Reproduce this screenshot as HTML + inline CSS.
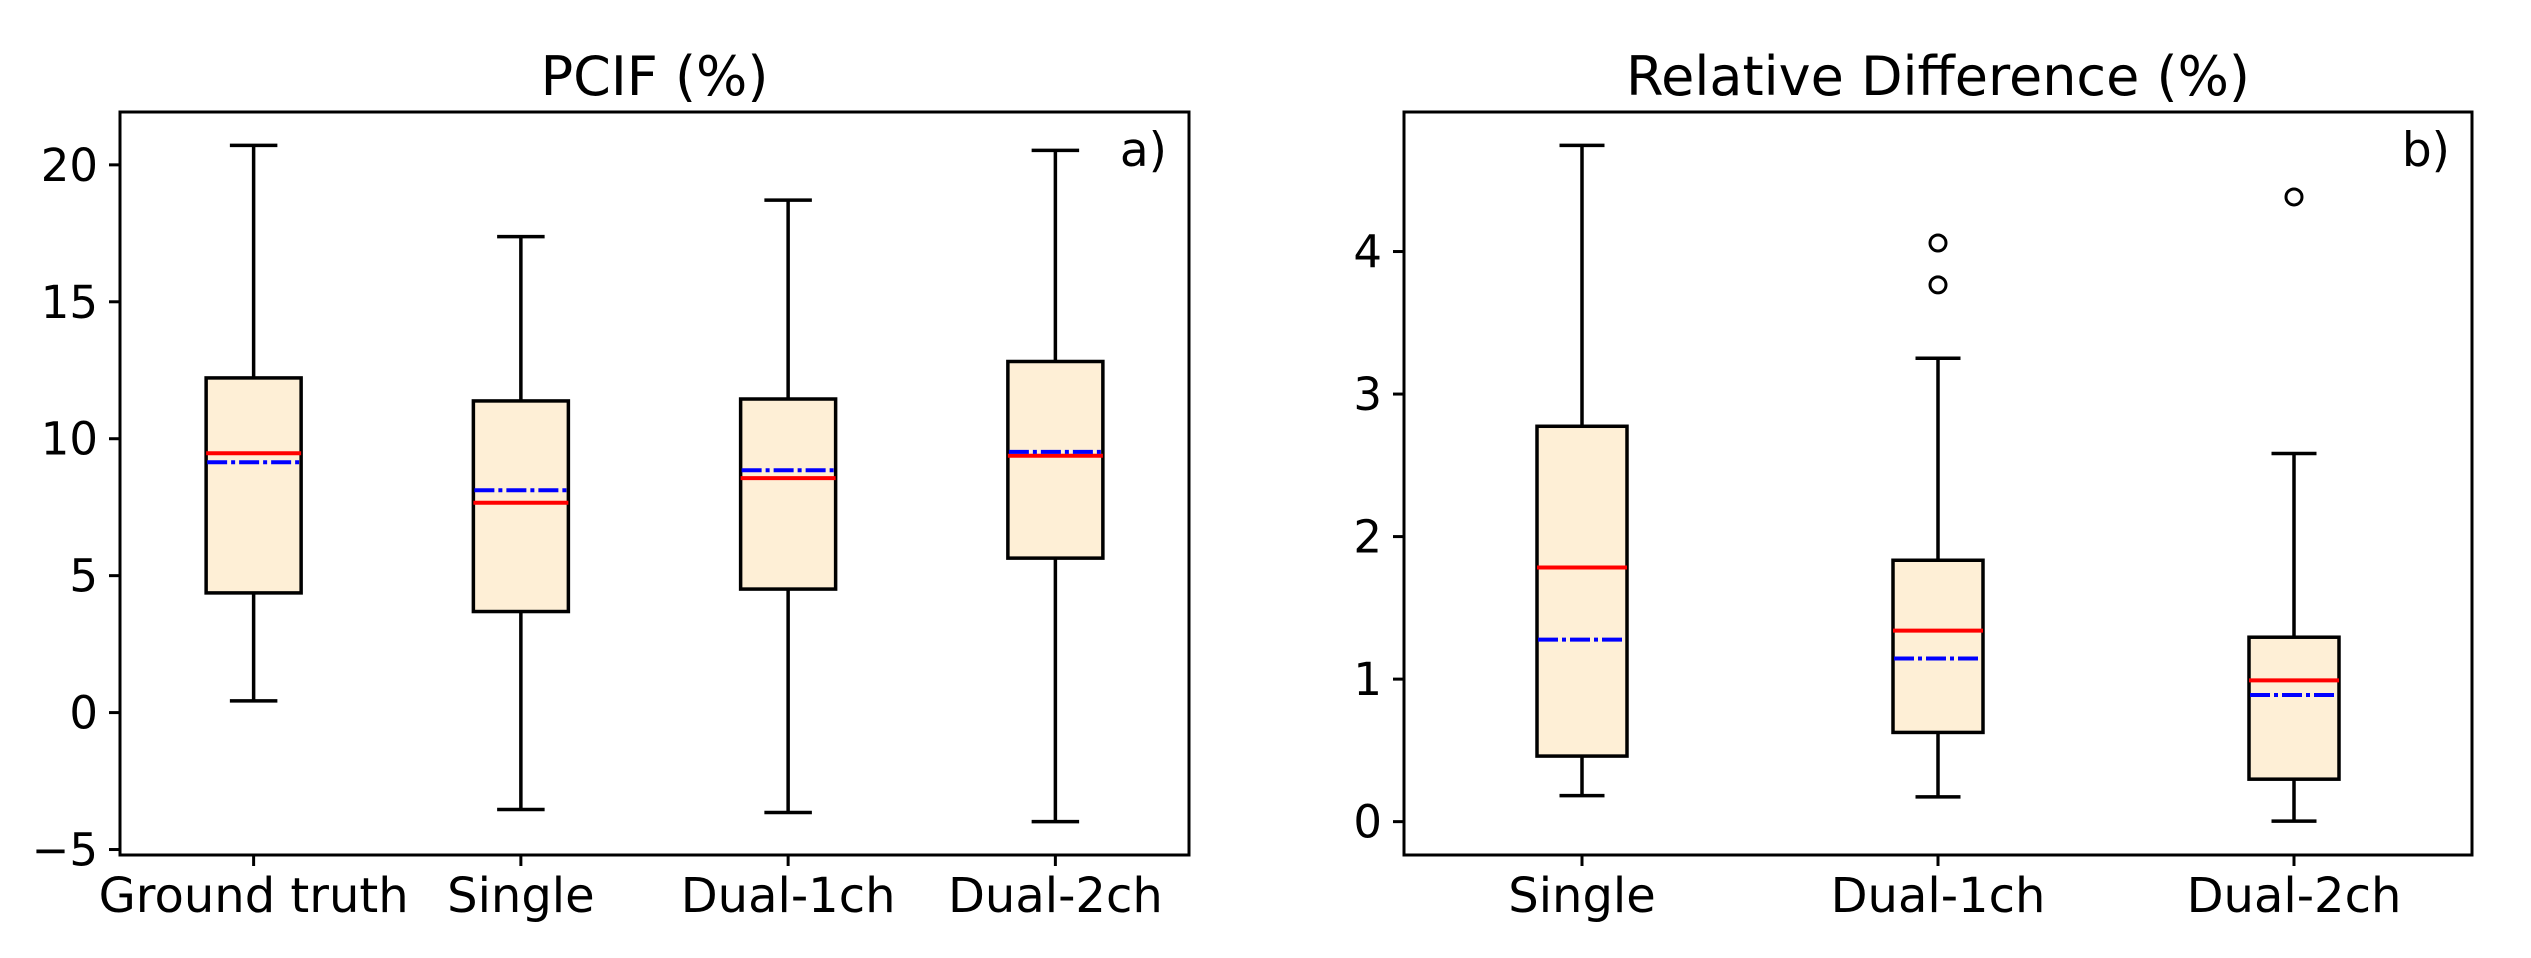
<!DOCTYPE html>
<html><head><meta charset="utf-8"><style>
html,body{margin:0;padding:0;background:#fff;}
svg text{font-family:"DejaVu Sans","Liberation Sans",sans-serif;fill:#000;}
</style></head><body>
<svg id="fig" width="2531" height="953" viewBox="0 0 2531 953" xmlns="http://www.w3.org/2000/svg"></svg>
<script>
// Panel a data
const catsA = ["Ground truth","Single","Dual-1ch","Dual-2ch"];
const whiskLoA = [0.43,-3.54,-3.65,-3.98];
const q1A = [4.37,3.69,4.51,5.64];
const medA = [9.47,7.66,8.56,9.38];
const meanA = [9.14,8.12,8.85,9.52];
const q3A = [12.22,11.38,11.45,12.82];
const whiskHiA = [20.71,17.38,18.71,20.53];
const ticksA = [-5,0,5,10,15,20];
const tickLabelsA = ["\u22125","0","5","10","15","20"];
// Panel b data
const catsB = ["Single","Dual-1ch","Dual-2ch"];
const whiskLoB = [0.183,0.174,0.004];
const q1B = [0.46,0.626,0.298];
const medB = [1.783,1.34,0.991];
const meanB = [1.277,1.145,0.889];
const q3B = [2.774,1.834,1.294];
const whiskHiB = [4.745,3.251,2.583];
const outliersB = [[],[4.06,3.766],[4.383]];
const ticksB = [0,1,2,3,4];
const tickLabelsB = ["0","1","2","3","4"];

const NS="http://www.w3.org/2000/svg";
const svg=document.getElementById('fig');
function mk(tag,attrs,parent){const e=document.createElementNS(NS,tag);for(const k in attrs)e.setAttribute(k,attrs[k]);(parent||svg).appendChild(e);return e;}

function panel(opt){
  const {L,R,T,B,ymin,ymax,cats,lo,q1,med,mean,q3,hi,outs,ticks,tlabels,title,tag,boxW,name}=opt;
  const g=mk('g',{});
  
  
  const n=cats.length;
  const xs=i=>L+(i+0.5)*(R-L)/n;
  const ys=v=>T+(ymax-v)/(ymax-ymin)*(B-T);
  for(let i=0;i<n;i++){
    const cx=xs(i), hw=boxW/2, cap=hw/2;
    const bg=mk('g',{},g);
    
    
    mk('line',{x1:cx,x2:cx,y1:ys(q3[i]),y2:ys(hi[i]),stroke:'#000','stroke-width':3.5},bg);
    mk('line',{x1:cx,x2:cx,y1:ys(q1[i]),y2:ys(lo[i]),stroke:'#000','stroke-width':3.5},bg);
    mk('line',{x1:cx-cap,x2:cx+cap,y1:ys(hi[i]),y2:ys(hi[i]),stroke:'#000','stroke-width':3.5},bg);
    mk('line',{x1:cx-cap,x2:cx+cap,y1:ys(lo[i]),y2:ys(lo[i]),stroke:'#000','stroke-width':3.5},bg);
    mk('rect',{x:cx-hw,y:ys(q3[i]),width:boxW,height:ys(q1[i])-ys(q3[i]),fill:'#FEEFD6',stroke:'#000','stroke-width':3.5},bg);
    mk('line',{x1:cx-hw,x2:cx+hw,y1:ys(med[i]),y2:ys(med[i]),stroke:'#ff0000','stroke-width':4},bg);
    mk('line',{x1:cx-hw+1,x2:cx+hw-1,y1:ys(mean[i]),y2:ys(mean[i]),stroke:'#0000ff','stroke-width':4,'stroke-dasharray':'20 4 4 4'},bg);
    if(outs) for(const o of outs[i]) mk('circle',{cx:cx,cy:ys(o),r:8,fill:'none',stroke:'#000','stroke-width':3},bg);
    mk('line',{x1:cx,x2:cx,y1:B,y2:B+11,stroke:'#000','stroke-width':3},g);
    const t=mk('text',{x:cx,y:B+57,'font-size':48,'text-anchor':'middle'},g);
    t.textContent=cats[i];
    
    
  }
  ticks.forEach((v,j)=>{
    mk('line',{x1:L-11,x2:L,y1:ys(v),y2:ys(v),stroke:'#000','stroke-width':3},g);
    const t=mk('text',{x:L-22,y:ys(v)+16,'font-size':45,'text-anchor':'end'},g);
    t.textContent=tlabels[j];
    
    
  });
  const fr=mk('rect',{x:L,y:T,width:R-L,height:B-T,fill:'none',stroke:'#000','stroke-width':3},g);
  
  
  const tt=mk('text',{x:(L+R)/2,y:95,'font-size':54,'text-anchor':'middle'},g);
  tt.textContent=title;
  
  
  const lb=mk('text',{x:R-22,y:166,'font-size':47,'text-anchor':'end'},g);
  lb.textContent=tag;
  
  
}
panel({L:120,R:1189,T:112,B:855,ymin:-5.2,ymax:21.93,cats:catsA,lo:whiskLoA,q1:q1A,med:medA,mean:meanA,q3:q3A,hi:whiskHiA,outs:null,ticks:ticksA,tlabels:tickLabelsA,title:"PCIF (%)",tag:"a)",boxW:95,name:'panel-a-pcif'});
panel({L:1404,R:2472,T:112,B:855,ymin:-0.234,ymax:4.979,cats:catsB,lo:whiskLoB,q1:q1B,med:medB,mean:meanB,q3:q3B,hi:whiskHiB,outs:outliersB,ticks:ticksB,tlabels:tickLabelsB,title:"Relative Difference (%)",tag:"b)",boxW:90,name:'panel-b-relative-difference'});
</script>
</body></html>
